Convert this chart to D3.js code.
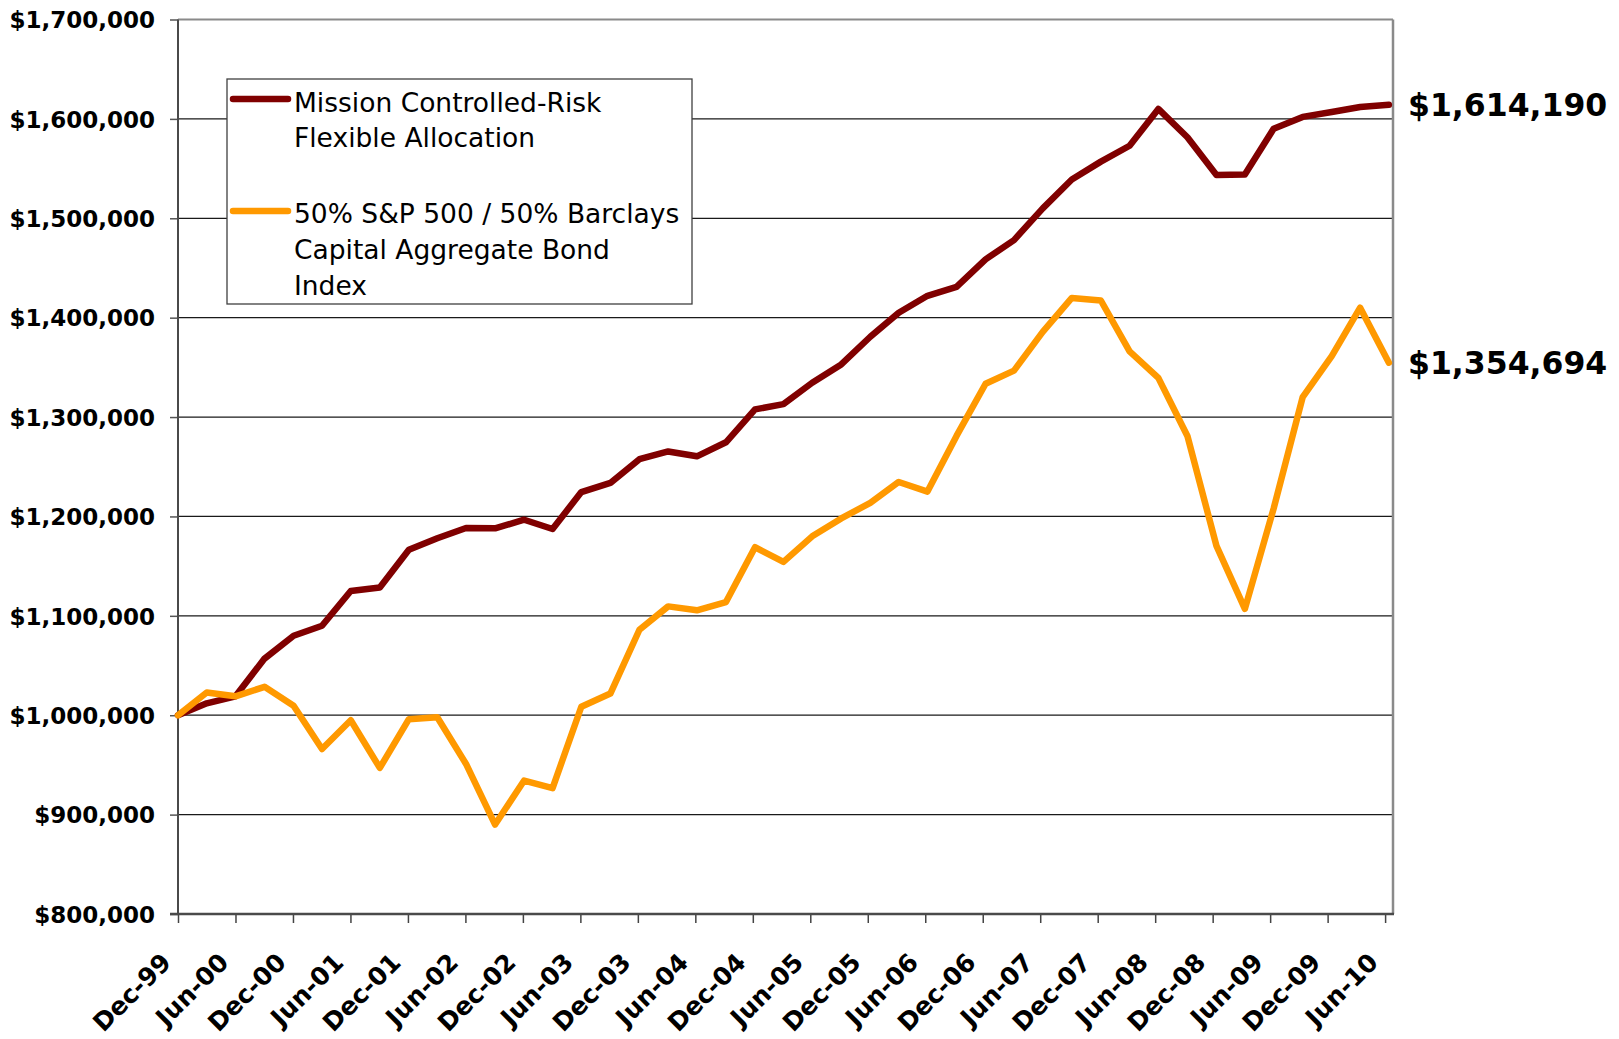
<!DOCTYPE html>
<html><head><meta charset="utf-8">
<script src="https://cdn.jsdelivr.net/npm/d3@7"></script>
<style>body{margin:0;background:#fff} svg{display:block}</style>
</head><body>
<svg id="chart" width="1619" height="1039"></svg>
<script>
// ---- data ----
const quarterEnds = [
 "1999-12-31","2000-03-31","2000-06-30","2000-09-30","2000-12-31","2001-03-31","2001-06-30","2001-09-30",
 "2001-12-31","2002-03-31","2002-06-30","2002-09-30","2002-12-31","2003-03-31","2003-06-30","2003-09-30",
 "2003-12-31","2004-03-31","2004-06-30","2004-09-30","2004-12-31","2005-03-31","2005-06-30","2005-09-30",
 "2005-12-31","2006-03-31","2006-06-30","2006-09-30","2006-12-31","2007-03-31","2007-06-30","2007-09-30",
 "2007-12-31","2008-03-31","2008-06-30","2008-09-30","2008-12-31","2009-03-31","2009-06-30","2009-09-30",
 "2009-12-31","2010-03-31","2010-06-30"];
const missionValues = [
 1000000,1012000,1019000,1057000,1080000,1090000,1125000,1128500,1166500,1178000,1188400,1188000,
 1196700,1187400,1224500,1233700,1257600,1265400,1260500,1274600,1307700,1313000,1334500,1353000,
 1380800,1405000,1422000,1431000,1458700,1478000,1510000,1539000,1557000,1573000,1610000,1581500,
 1543500,1544000,1590000,1602000,1607000,1612000,1614190];
const benchmarkValues = [
 1000000,1022800,1019000,1028600,1009600,966000,995000,947000,996000,998000,951000,890000,
 934300,926700,1008500,1021800,1086000,1109500,1105600,1113900,1169000,1154300,1180000,1198000,
 1213700,1234700,1225000,1281000,1333500,1346700,1385700,1419800,1417300,1366000,1339400,1281000,
 1170400,1107000,1207900,1320000,1361300,1410000,1354694];
const yTickValues = [800000,900000,1000000,1100000,1200000,1300000,1400000,1500000,1600000,1700000];
const xTickLabels = ["Dec-99","Jun-00","Dec-00","Jun-01","Dec-01","Jun-02","Dec-02","Jun-03","Dec-03","Jun-04","Dec-04",
 "Jun-05","Dec-05","Jun-06","Dec-06","Jun-07","Dec-07","Jun-08","Dec-08","Jun-09","Dec-09","Jun-10"];
const seriesNames = [["Mission Controlled-Risk","Flexible Allocation"],
                     ["50% S&P 500 / 50% Barclays","Capital Aggregate Bond","Index"]];
const seriesColors = ["#800000","#FF9900"];
const endLabels = ["$1,614,190","$1,354,694"];

// ---- layout ----
const L = 178, R = 1393, T = 19.5, B = 914;
const svg = d3.select("#chart");
svg.append("rect").attr("width",1619).attr("height",1039).attr("fill","#fff");

const parse = d3.timeParse("%Y-%m-%d");
const dates = quarterEnds.map(parse);
const x = d3.scaleTime().domain([dates[0], d3.timeDay.offset(dates[dates.length-1], 13)]).range([L, R]);
const y = d3.scaleLinear().domain([800000,1700000]).range([B, T]);
const tickDates = xTickLabels.map((_,k)=>d3.timeDay.offset(dates[0], 182*k));

// gridlines
svg.append("g").selectAll("line").data(yTickValues.slice(1,-1)).join("line")
  .attr("x1",L).attr("x2",R).attr("y1",d=>y(d)).attr("y2",d=>y(d))
  .attr("stroke","#1a1a1a").attr("stroke-width",1.2);

// frame top/right
svg.append("line").attr("x1",L).attr("x2",R).attr("y1",T).attr("y2",T).attr("stroke","#8a8a8a").attr("stroke-width",2);
svg.append("line").attr("x1",R).attr("x2",R).attr("y1",T).attr("y2",B).attr("stroke","#8a8a8a").attr("stroke-width",2.5);

// y axis
const yAxis = svg.append("g").attr("transform",`translate(${L},0)`)
  .call(d3.axisLeft(y).tickValues(yTickValues).tickSize(8).tickPadding(15).tickFormat(d3.format("$,")));
yAxis.select(".domain").remove();
yAxis.selectAll(".tick line").attr("stroke","#555").attr("stroke-width",1.5);
yAxis.selectAll(".tick text").attr("fill","#000").style("font-family","'DejaVu Sans'")
  .style("font-weight","bold").style("font-size","23px").attr("dy","0.36em");

// x axis
const xAxis = svg.append("g").attr("transform",`translate(0,${B})`)
  .call(d3.axisBottom(x).tickValues(tickDates).tickSize(9).tickFormat((d,i)=>xTickLabels[i]));
xAxis.select(".domain").remove();
xAxis.selectAll(".tick line").attr("stroke","#444").attr("stroke-width",1.5);
xAxis.selectAll(".tick text").attr("fill","#000").attr("x",0).attr("y",0).attr("dy",0)
  .attr("text-anchor","end").attr("transform","translate(-6,50) rotate(-45)")
  .style("font-family","'DejaVu Sans'").style("font-weight","bold").style("font-size","25px");

// axis lines
svg.append("line").attr("x1",L).attr("x2",L).attr("y1",T).attr("y2",B+1).attr("stroke","#4a4a4a").attr("stroke-width",2);
svg.append("line").attr("x1",L-8).attr("x2",R+1).attr("y1",B).attr("y2",B).attr("stroke","#4a4a4a").attr("stroke-width",2.5);

// lines
const line = d3.line().x((d,i)=>x(dates[i])).y(d=>y(d));
[missionValues, benchmarkValues].forEach((vals,k)=>{
  svg.append("path").datum(vals).attr("d",line).attr("fill","none")
    .attr("stroke",seriesColors[k]).attr("stroke-width",6.5)
    .attr("stroke-linejoin","round").attr("stroke-linecap","round");
});

// end labels
[missionValues, benchmarkValues].forEach((vals,k)=>{
  svg.append("text").attr("x",1408).attr("y",y(vals[vals.length-1])).attr("dy","0.36em")
    .text(endLabels[k]).style("font-family","'DejaVu Sans'").style("font-weight","bold")
    .style("font-size","31.5px").attr("fill","#000");
});

// legend
const lg = svg.append("g");
lg.append("rect").attr("x",227).attr("y",79).attr("width",465).attr("height",225)
  .attr("fill","#fff").attr("stroke","#404040").attr("stroke-width",1.3);
const legendRows = [{sy:99, ty:[111.7,146.7]},{sy:211, ty:[222.7,258.7,294.7]}];
legendRows.forEach((r,k)=>{
  lg.append("line").attr("x1",233).attr("x2",288).attr("y1",r.sy).attr("y2",r.sy)
    .attr("stroke",seriesColors[k]).attr("stroke-width",6.5).attr("stroke-linecap","round");
  seriesNames[k].forEach((t,j)=>{
    lg.append("text").attr("x",294).attr("y",r.ty[j]).text(t)
      .style("font-family","'DejaVu Sans'").style("font-size","26.5px").attr("fill","#000");
  });
});
</script>
</body></html>
